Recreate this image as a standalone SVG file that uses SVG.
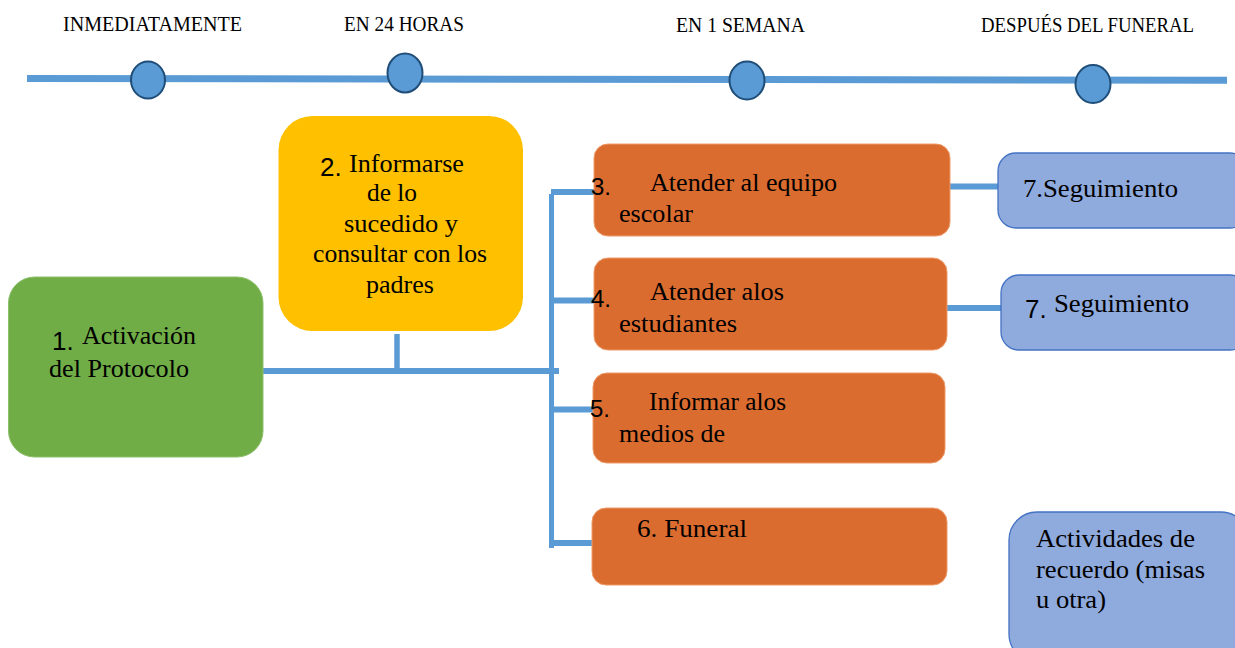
<svg xmlns="http://www.w3.org/2000/svg" width="1235" height="648" viewBox="0 0 1235 648">
<style>
.t{font-family:"Liberation Serif","Times New Roman",serif;font-size:26px;fill:#000}
.n{font-family:"Liberation Sans",Arial,sans-serif;fill:#000}
.h{font-family:"Liberation Serif","Times New Roman",serif;font-size:20px;fill:#000}
.c{stroke:#5B9BD5;fill:none}
.dot{fill:#5B9BD5;stroke:#1F4E79;stroke-width:2}
.or{fill:#DB6C30;stroke:#EE9A68;stroke-width:1}
.bl{fill:#8FAADC;stroke:#4472C4;stroke-width:1.3}
</style>
<rect width="1235" height="648" fill="#fff"/>
<g id="timeline">
<line x1="27" y1="78.5" x2="1227" y2="80.3" stroke="#5B9BD5" stroke-width="7"/>
<ellipse class="dot" cx="148" cy="80" rx="17" ry="18.5"/>
<ellipse class="dot" cx="405" cy="73" rx="17.5" ry="19.5"/>
<ellipse class="dot" cx="747" cy="80.5" rx="17.5" ry="19"/>
<ellipse class="dot" cx="1093" cy="84" rx="17.5" ry="19"/>
<text class="h" x="63" y="31" textLength="179" lengthAdjust="spacingAndGlyphs">INMEDIATAMENTE</text>
<text class="h" x="344" y="31" textLength="120" lengthAdjust="spacingAndGlyphs">EN 24 HORAS</text>
<text class="h" x="676" y="32" textLength="129" lengthAdjust="spacingAndGlyphs">EN 1 SEMANA</text>
<text class="h" x="981" y="32" textLength="213" lengthAdjust="spacingAndGlyphs">DESPUÉS DEL FUNERAL</text>
</g>
<g id="connectors">
<line class="c" x1="263" y1="371" x2="559" y2="371" stroke-width="6"/>
<line class="c" x1="397" y1="334" x2="397" y2="371" stroke-width="5.5"/>
<line class="c" x1="551.5" y1="194" x2="551.5" y2="548" stroke-width="5"/>
<line class="c" x1="551" y1="192" x2="595" y2="192" stroke-width="6"/>
<line class="c" x1="551" y1="300.5" x2="595" y2="300.5" stroke-width="6"/>
<line class="c" x1="551" y1="409.5" x2="594" y2="409.5" stroke-width="6"/>
<line class="c" x1="551" y1="543" x2="593" y2="543" stroke-width="6"/>
<line class="c" x1="950" y1="186.5" x2="999" y2="186.5" stroke-width="6"/>
<line class="c" x1="940" y1="308" x2="1001" y2="308" stroke-width="6"/>
</g>
<g id="node1">
<rect x="8.5" y="277" width="254.5" height="180" rx="26" fill="#70AD47" stroke="#8CC06A" stroke-width="1"/>
<text class="n" x="52" y="350" font-size="26">1.</text>
<text class="t" x="82" y="344" textLength="114" lengthAdjust="spacingAndGlyphs">Activación</text>
<text class="t" x="49" y="377" textLength="140" lengthAdjust="spacingAndGlyphs">del Protocolo</text>
</g>
<g id="node2">
<rect x="278.5" y="116" width="244.5" height="215" rx="34" fill="#FFC000"/>
<text class="n" x="320" y="176" font-size="26">2.</text>
<text class="t" x="349" y="172" textLength="115" lengthAdjust="spacingAndGlyphs">Informarse</text>
<text class="t" x="367" y="201" textLength="50" lengthAdjust="spacingAndGlyphs">de lo</text>
<text class="t" x="344" y="232" textLength="114" lengthAdjust="spacingAndGlyphs">sucedido y</text>
<text class="t" x="313" y="262" textLength="174" lengthAdjust="spacingAndGlyphs">consultar con los</text>
<text class="t" x="366" y="293" textLength="68" lengthAdjust="spacingAndGlyphs">padres</text>
</g>
<g id="node3">
<rect class="or" x="594" y="144" width="356" height="92" rx="14"/>
<text class="n" x="591" y="195" font-size="24">3.</text>
<text class="t" x="650" y="191" textLength="187" lengthAdjust="spacingAndGlyphs">Atender al equipo</text>
<text class="t" x="619" y="222" textLength="74" lengthAdjust="spacingAndGlyphs">escolar</text>
</g>
<g id="node4">
<rect class="or" x="594" y="258" width="353" height="92" rx="14"/>
<text class="n" x="591" y="307" font-size="24">4.</text>
<text class="t" x="650" y="300" textLength="134" lengthAdjust="spacingAndGlyphs">Atender alos</text>
<text class="t" x="619" y="332" textLength="118" lengthAdjust="spacingAndGlyphs">estudiantes</text>
</g>
<g id="node5">
<rect class="or" x="593" y="373" width="352" height="90" rx="14"/>
<text class="n" x="590" y="417" font-size="24">5.</text>
<text class="t" x="649" y="410" textLength="137" lengthAdjust="spacingAndGlyphs">Informar alos</text>
<text class="t" x="619" y="442" textLength="106" lengthAdjust="spacingAndGlyphs">medios de</text>
</g>
<g id="node6">
<rect class="or" x="592" y="508" width="355" height="77" rx="14"/>
<text class="t" x="637" y="537" textLength="110" lengthAdjust="spacingAndGlyphs">6. Funeral</text>
</g>
<g id="node7a">
<rect class="bl" x="998" y="153" width="250" height="75" rx="18"/>
<text class="t" x="1023" y="197" textLength="155" lengthAdjust="spacingAndGlyphs">7.Seguimiento</text>
</g>
<g id="node7b">
<rect class="bl" x="1001" y="275" width="247" height="75" rx="18"/>
<text class="n" x="1025" y="318" font-size="26">7.</text>
<text class="t" x="1054" y="312" textLength="135" lengthAdjust="spacingAndGlyphs">Seguimiento</text>
</g>
<g id="node8">
<rect class="bl" x="1009" y="512" width="240" height="150" rx="28"/>
<text class="t" x="1036" y="547" textLength="159" lengthAdjust="spacingAndGlyphs">Actividades de</text>
<text class="t" x="1036" y="578" textLength="169" lengthAdjust="spacingAndGlyphs">recuerdo (misas</text>
<text class="t" x="1036" y="608" textLength="70" lengthAdjust="spacingAndGlyphs">u otra)</text>
</g>
</svg>
